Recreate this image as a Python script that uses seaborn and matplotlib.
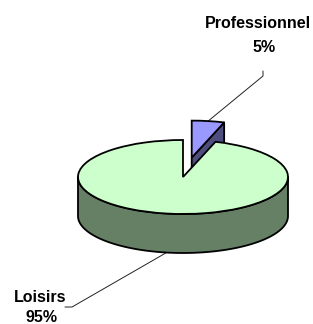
import numpy as np
import matplotlib
matplotlib.use("Agg")
import matplotlib.pyplot as plt
from matplotlib.patches import Wedge, Polygon
from matplotlib.transforms import Affine2D
import seaborn as sns

# ---- data ----
categories = ["Loisirs", "Professionnel"]
values = [95, 5]
explode = [0.0, 0.53]
top_colors = ["#CCFFCC", "#9999FF"]
side_colors = ["#668066", "#4D4D80"]

# ---- layout ----
W, H = 313, 324
cx, cy = 183.0, 177.0      # centre of the pie top (pixels)
rx, ry = 105.0, 37.0       # ellipse radii
depth = 39.0               # thickness of the pie
start_angle = 90.0
lw = 1.3

sns.set_theme(style="white")
plt.rcParams["font.family"] = ["Liberation Sans", "DejaVu Sans"]

fig = plt.figure(figsize=(W / 100, H / 100), dpi=100)
ax = fig.add_axes([0, 0, 1, 1])
ax.set_xlim(0, W)
ax.set_ylim(H, 0)
ax.axis("off")

total = float(sum(values))
fracs = np.array(values) / total
theta1 = start_angle + 360.0 * np.concatenate([[0], np.cumsum(fracs)[:-1]])
theta2 = start_angle + 360.0 * np.cumsum(fracs)
mids = (theta1 + theta2) / 2.0


def to_px(ux, uy, ox, oy, dz=0.0):
    return ox + rx * np.asarray(ux), oy - ry * np.asarray(uy) + dz


def origin(i):
    m = np.deg2rad(mids[i])
    return cx + explode[i] * rx * np.cos(m), cy - explode[i] * ry * np.sin(m)


# draw back slices first (Professionnel), then front slice (Loisirs)
order = [1, 0]
for k, i in enumerate(order):
    ox, oy = origin(i)
    z = 2 + 3 * k
    t1, t2 = theta1[i], theta2[i]
    # side faces
    if i == 0:
        # visible front half of the outer wall
        t = np.deg2rad(np.linspace(180, 360, 120))
        xt, yt = to_px(np.cos(t), np.sin(t), ox, oy)
        xb, yb = xt, yt + depth
        pts = np.column_stack([np.concatenate([xt, xb[::-1]]),
                               np.concatenate([yt, yb[::-1]])])
        ax.add_patch(Polygon(pts, closed=True, facecolor=side_colors[i],
                             edgecolor="black", lw=lw, zorder=z,
                             joinstyle="round"))
    else:
        # radial face at the end angle, facing the viewer
        a = np.deg2rad(t1)
        xo, yo = to_px(np.cos(a), np.sin(a), ox, oy)
        pts = np.array([[ox, oy], [xo, yo], [xo, yo + depth], [ox, oy + depth]])
        ax.add_patch(Polygon(pts, closed=True, facecolor=side_colors[i],
                             edgecolor="black", lw=lw, zorder=z,
                             joinstyle="round"))
    # top face
    tr = Affine2D().scale(rx, -ry).translate(ox, oy) + ax.transData
    w = Wedge((0, 0), 1.0, t1, t2, facecolor=top_colors[i],
              edgecolor="black", lw=lw, zorder=z + 1)
    w.set_transform(tr)
    ax.add_patch(w)

# ---- labels and leader lines ----
label_pos = {0: (40, 297), 1: (258, 23)}
pct_dx = {0: 1.5, 1: 6}
pct_dy = {0: 20, 1: 24}
line_color = "#222222"

for i, name in enumerate(categories):
    lx, ly = label_pos[i]
    pct = f"{values[i] / total * 100:.0f}%"
    ax.text(lx, ly, name, ha="center", va="center", fontsize=11.5,
            fontweight="bold", color="black", zorder=10)
    ax.text(lx + pct_dx[i], ly + pct_dy[i], pct, ha="center", va="center",
            fontsize=11.5, fontweight="bold", color="black", zorder=10)
    ox, oy = origin(i)
    m = np.deg2rad(mids[i])
    px, py = to_px(np.cos(m), np.sin(m), ox, oy)
    if i == 0:
        py = py + depth
        ax.plot([px, 72, 65], [py, 307, 307], color=line_color, lw=0.7,
                zorder=1)
    else:
        ax.plot([px, 263, 263], [py, 76, 71], color=line_color, lw=0.7,
                zorder=1)

fig.savefig("out.png", dpi=100, facecolor="white")
